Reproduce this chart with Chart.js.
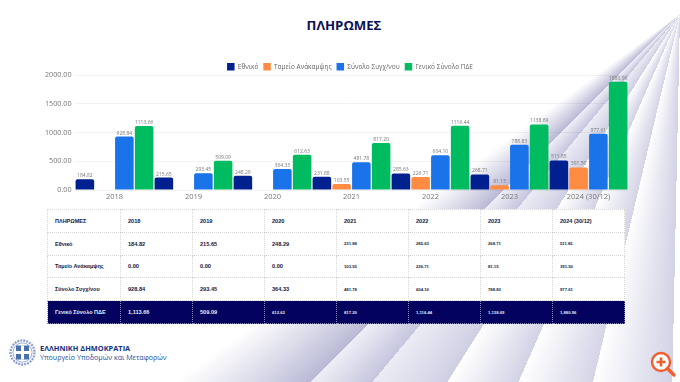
<!DOCTYPE html>
<html lang="el">
<head>
<meta charset="utf-8">
<title>ΠΛΗΡΩΜΕΣ</title>
<script src="https://cdn.jsdelivr.net/npm/chart.js@4"></script>
<style>
  html, body { margin: 0; padding: 0; background: #fff; }
  #page { position: relative; width: 680px; height: 382px; overflow: hidden; background: #fff; font-family: "Open Sans", sans-serif; }
  /* fan of rays behind everything, all meeting at the top right */
  #rays { position: absolute; left: 0; top: 0; width: 680px; height: 382px;
    background: conic-gradient(at 680px 14px,
      #fff 0deg, #fff 181.2deg,
      #d2d2e6 181.2deg, #fff 193.3deg,
      #d4d4e7 193.3deg, #fff 203.7deg,
      #d2d2e6 203.7deg, #fff 212.3deg,
      #cfcfe4 212.3deg, #ececf5 219.9deg,
      #c5c5de 219.9deg, #eeeef6 225.1deg,
      #b9b9d6 225.1deg, #fff 234deg,
      #fff 360deg); }
  #title { position: absolute; left: 4px; width: 680px; top: 15px; text-align: center; font: 700 13.2px/20px "Open Sans", sans-serif; color: #0c1155; }
  #chartBox { position: absolute; left: 40px; top: 55px; width: 620px; height: 148px; }
  #tabla { position: absolute; left: 47px; top: 209px; width: 578px; height: 115px; border-collapse: collapse; table-layout: fixed; background: #fff; font-family: "Liberation Sans", sans-serif; color: #16163f; }
  #tabla td { border: 1px dotted #d6d6d6; padding: 0 0 0 7px; height: 21.8px; font-size: 5.6px; font-weight: 700; }
  #tabla td.first { font-size: 5.5px; }
  #tabla td.small { font-size: 4.2px; }
  #tabla tr.total td { background: #03035f; color: #e9e9f5; border-color: #8c8cb8; }
  #logoText { position: absolute; left: 40px; top: 343px; line-height: 10px; white-space: nowrap; }
  #logoText b { display: block; font: 700 7.4px/10px "Open Sans", sans-serif; color: #12307f; }
  #logoText span { display: block; font: 400 7.1px/9px "Open Sans", sans-serif; color: #1d4f9c; }
</style>
</head>
<body>
<div id="page">
  <div id="rays"></div>
  <div id="title">ΠΛΗΡΩΜΕΣ</div>
  <div id="chartBox"><canvas id="chartPliromes" width="620" height="148"></canvas></div>
  <table id="tabla"></table>
  <svg style="position:absolute;left:9px;top:339px" width="27" height="27" viewBox="0 0 27 27">
    <circle cx="13.5" cy="13.5" r="12" fill="none" stroke="#8fa3cc" stroke-width="2.4" stroke-dasharray="2 1"/>
    <circle cx="13.5" cy="13.5" r="9.6" fill="#fff" stroke="#5f7db5" stroke-width="0.6"/>
    <rect x="7" y="6.5" width="13" height="14" fill="#4a70b0"/>
    <rect x="12" y="6.5" width="3" height="14" fill="#fff"/>
    <rect x="7" y="12" width="13" height="3" fill="#fff"/>
  </svg>
  <div id="logoText"><b>ΕΛΛΗΝΙΚΗ ΔΗΜΟΚΡΑΤΙΑ</b><span>Υπουργείο Υποδομών και Μεταφορών</span></div>
  <svg style="position:absolute;left:650px;top:351px" width="27" height="27" viewBox="0 0 27 27">
    <circle cx="11" cy="11" r="9" fill="#fff" stroke="#ef5f2c" stroke-width="2.4"/>
    <path d="M11 6.5v9M6.5 11h9" stroke="#ef5f2c" stroke-width="2.6" fill="none"/>
    <path d="M17.5 17.5l6.5 6.5" stroke="#ef5f2c" stroke-width="3.2" stroke-linecap="round"/>
  </svg>
</div>
<script>
const years = ['2018', '2019', '2020', '2021', '2022', '2023', '2024 (30/12)'];
const ethniko = [184.82, 215.65, 248.29, 231.88, 285.63, 268.71, 511.85];
const tameio = [0, 0, 0, 103.55, 226.71, 81.15, 391.50];
const synolo = [928.84, 293.45, 364.33, 481.78, 604.10, 788.83, 977.61];
const geniko = [1113.66, 509.09, 612.63, 817.20, 1116.44, 1138.69, 1880.96];
const names = ['Εθνικό', 'Ταμείο Ανάκαμψης', 'Σύνολο Συγχ/νου', 'Γενικό Σύνολο ΠΔΕ'];
const yTicks = [0, 500, 1000, 1500, 2000];

// values above the bars, plus legend height and offset
const barLabels = {
  id: 'barLabels',
  beforeInit(chart) {
    const fit = chart.legend.fit;
    chart.legend.fit = function () {
      fit.call(this);
      this.height = 17;
    };
  },
  afterLayout(chart) {
    chart.legend.left = 32;
    chart.legend.adjustHitBoxes();
  },
  afterDatasetsDraw(chart) {
    const ctx = chart.ctx;
    ctx.save();
    ctx.font = '5px "Open Sans", sans-serif';
    ctx.fillStyle = '#777';
    ctx.textAlign = 'center';
    ctx.textBaseline = 'bottom';
    chart.data.datasets.forEach((ds, i) => {
      chart.getDatasetMeta(i).data.forEach((bar, j) => {
        if (ds.data[j] > 0) ctx.fillText(ds.data[j].toFixed(2), bar.x, bar.y - 1);
      });
    });
    ctx.restore();
  }
};

const barSet = (label, data, color) => ({
  label, data,
  backgroundColor: color,
  borderRadius: 2,
  barPercentage: 0.94,
  categoryPercentage: 1
});

new Chart(document.getElementById('chartPliromes').getContext('2d'), {
  type: 'bar',
  data: {
    labels: years,
    datasets: [
      barSet(names[0], ethniko, '#00208f'),
      barSet(names[1], tameio, '#ff8c42'),
      barSet(names[2], synolo, '#1a73e8'),
      barSet(names[3], geniko, '#00bb5f')
    ]
  },
  options: {
    responsive: false,
    animation: false,
    layout: { padding: { left: 0, right: 32, top: 3, bottom: 0 } },
    plugins: {
      legend: {
        position: 'top',
        labels: { boxWidth: 7.5, boxHeight: 7.5, padding: 5, color: '#666', font: { family: 'Open Sans', size: 6.5 } }
      },
      tooltip: { enabled: false }
    },
    scales: {
      x: {
        afterFit(axis) { axis.height = 13; },
        grid: { display: false, drawTicks: false },
        border: { display: false },
        ticks: { color: '#777', font: { family: 'Open Sans', size: 7.5 }, padding: 2, maxRotation: 0 }
      },
      y: {
        min: 0,
        max: 2000,
        afterBuildTicks(axis) { axis.ticks = yTicks.map(v => ({ value: v })); },
        afterFit(axis) { axis.width = 35; },
        grid: { color: 'rgba(0,0,0,0.05)', drawTicks: false },
        border: { display: false },
        ticks: {
          color: '#777',
          padding: 3.5,
          font: { family: 'Open Sans', size: 7.2 },
          callback: v => v.toFixed(2)
        }
      }
    }
  },
  plugins: [barLabels]
});

// table under the chart
const tabla = document.getElementById('tabla');
const fmt = v => v.toLocaleString('en-US', { minimumFractionDigits: 2, maximumFractionDigits: 2 });
const addRow = (head, cells, total) => {
  const tr = tabla.insertRow();
  if (total) tr.className = 'total';
  const th = tr.insertCell();
  th.textContent = head;
  th.className = 'first';
  th.style.width = '65px';
  cells.forEach((txt, i) => {
    const td = tr.insertCell();
    td.textContent = txt;
    if (i < 3 || cells === years) return;
    td.className = 'small';
  });
  if (total) tr.cells[3].className = 'small';
};
addRow('ΠΛΗΡΩΜΕΣ', years);
addRow(names[0], ethniko.map(fmt));
addRow(names[1], tameio.map(fmt));
addRow(names[2], synolo.map(fmt));
addRow(names[3], geniko.map(fmt), true);
</script>
</body>
</html>
